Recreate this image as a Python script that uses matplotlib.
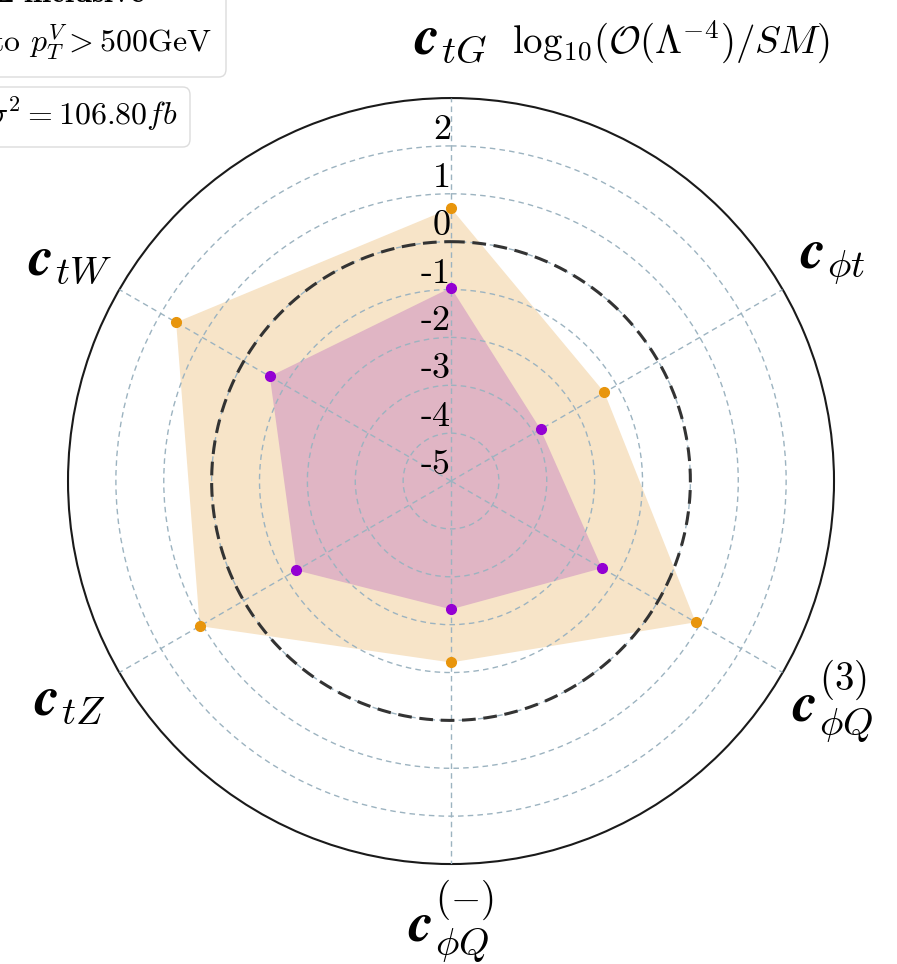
import numpy as np
import matplotlib.pyplot as plt
from matplotlib.patches import FancyBboxPatch

plt.rcParams['mathtext.fontset'] = 'cm'
plt.rcParams['font.family'] = 'serif'
plt.rcParams['font.serif'] = ['cmr10']
plt.rcParams['axes.unicode_minus'] = False

# Wilson coefficients around the radar (clockwise from top)
labels = [r'$\mathbfit{c}_{tG}$', r'$\mathbfit{c}_{\phi t}$', r'$\mathbfit{c}_{\phi Q}^{(3)}$',
          r'$\mathbfit{c}_{\phi Q}^{(-)}$', r'$\mathbfit{c}_{tZ}$', r'$\mathbfit{c}_{tW}$']
# log10(O(Lambda^-4)/SM)
outer_vals = [0.70, -1.30, 0.90, -1.21, 1.06, 1.63]      # orange
inner_vals = [-0.96, -2.84, -1.36, -2.32, -1.27, -0.63]  # purple
r_ticks = [-5, -4, -3, -2, -1, 0, 1, 2]
r_min, r_max = -5, 3

fig = plt.figure(figsize=(8.97, 9.64), dpi=100)
ax = fig.add_axes([0.0758, 0.1037, 0.854, 0.7946], projection='polar')
ax.set_theta_offset(np.pi / 2)
ax.set_theta_direction(-1)
ax.set_ylim(r_min, r_max)

angles = np.linspace(0, 2 * np.pi, len(labels), endpoint=False)
closed = np.append(angles, angles[0])

ax.fill(closed, outer_vals + outer_vals[:1], color='#f7e4c8', lw=0, zorder=1)
ax.fill(closed, inner_vals + inner_vals[:1], color='#e0b5c4', lw=0, zorder=1.1)
ax.plot(angles, outer_vals, 'o', color='#e8950c', ms=7, zorder=5)
ax.plot(angles, inner_vals, 'o', color='#9400d3', ms=7, zorder=5)

# SM reference circle
th = np.linspace(0, 2 * np.pi, 400)
ax.plot(th, np.zeros_like(th), color='#333333', lw=2.2, ls=(0, (4.5, 2.5)), zorder=4)

# grids
ax.set_axisbelow(False)
ax.set_yticks(r_ticks)
ax.set_yticklabels([])
ax.set_xticks(angles)
ax.set_xticklabels([])
ax.grid(True, color='#9cb3c0', ls=(0, (4, 3)), lw=1.0)
ax.spines['polar'].set_linewidth(1.5)
ax.spines['polar'].set_color('#1a1a1a')

for v in r_ticks:
    ax.text(0, v + 0.33, str(v), ha='right', va='center', fontsize=26)

for ang, lab in zip(angles, labels):
    ax.text(ang, 4.2, lab, ha='center', va='center', fontsize=40, clip_on=False)

fig.text(512 / 897, 1 - 42 / 964, r'$\mathrm{log}_{10}(\mathcal{O}(\Lambda^{-4})/SM)$',
         ha='left', va='center', fontsize=28)

# legend-like boxes (cut by figure edge)
box1 = FancyBboxPatch((-30 / 897, 1 - 77 / 964), 256 / 897, 120 / 964,
                      boxstyle='round,pad=0,rounding_size=0.008',
                      transform=fig.transFigure, fc='white', ec='#dcdcdc', lw=1)
box2 = FancyBboxPatch((-30 / 897, 1 - 147 / 964), 220 / 897, 60 / 964,
                      boxstyle='round,pad=0,rounding_size=0.008',
                      transform=fig.transFigure, fc='white', ec='#dcdcdc', lw=1)
fig.patches.extend([box1, box2])
fig.text(145 / 897, 1 - 3 / 964, r'$\mathbf{t\bar{t}Z\ inclusive}$',
         ha='right', va='baseline', fontsize=23)
fig.text(212 / 897, 1 - 52 / 964, r'Boosted to $p_T^V >$500GeV',
         ha='right', va='baseline', fontsize=23)
fig.text(178 / 897, 1 - 125 / 964, r'$\Delta\sigma^{2} = 106.80fb$',
         ha='right', va='baseline', fontsize=23)

fig.savefig('out.png', dpi=100)
